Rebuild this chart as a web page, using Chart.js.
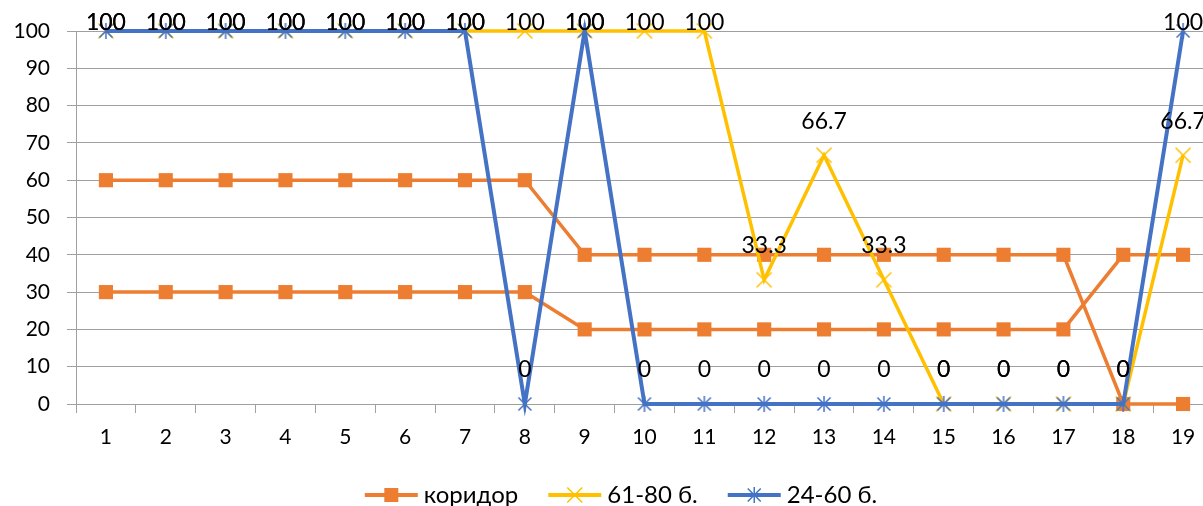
<!DOCTYPE html>
<html>
<head>
<meta charset="utf-8">
<script src="https://cdn.jsdelivr.net/npm/chart.js@4/dist/chart.umd.min.js"></script>
<style>
  html, body { margin: 0; padding: 0; overflow: hidden; background: #ffffff; }
  #wrap { width: 1213px; height: 506px; }
  #chart { display: block; }
</style>
</head>
<body>
<div id="wrap"><canvas id="chart" width="1213" height="506"></canvas></div>
<script>
// Categories along the x axis
const categories = ['1','2','3','4','5','6','7','8','9','10','11','12','13','14','15','16','17','18','19'];

// Corridor bounds (upper and lower), drawn as one legend entry
const corridorUpper = [60,60,60,60,60,60,60,60,40,40,40,40,40,40,40,40,40,0,0];
const corridorLower = [30,30,30,30,30,30,30,30,20,20,20,20,20,20,20,20,20,40,40];

// Score groups
const score61to80 = [100,100,100,100,100,100,100,100,100,100,100,33.3,66.7,33.3,0,0,0,0,66.7];
const score24to60 = [100,100,100,100,100,100,100,0,100,0,0,0,0,0,0,0,0,0,100];

// Series names and y-axis range
const seriesNames = ['коридор', '61-80 б.', '24-60 б.'];
const yMin = 0, yMax = 100, yStep = 10;

const ORANGE = '#ED7D31', YELLOW = '#FFC000', BLUE = '#4472C4';
const FONT = 'Lato, "Open Sans", sans-serif';
const GRID = '#a0a0a0';

// Marker shapes
function drawMarker(ctx, kind, x, y, color) {
  ctx.save();
  ctx.strokeStyle = color;
  ctx.fillStyle = color;
  ctx.lineWidth = 1.5;
  if (kind === 'square') {
    ctx.fillRect(x - 7, y - 7, 14, 14);
  } else if (kind === 'x') {
    ctx.beginPath();
    ctx.moveTo(x - 7.5, y - 7.5); ctx.lineTo(x + 7.5, y + 7.5);
    ctx.moveTo(x + 7.5, y - 7.5); ctx.lineTo(x - 7.5, y + 7.5);
    ctx.stroke();
  } else if (kind === 'asterisk') {
    ctx.beginPath();
    ctx.moveTo(x - 6.5, y - 6.5); ctx.lineTo(x + 6.5, y + 6.5);
    ctx.moveTo(x + 6.5, y - 6.5); ctx.lineTo(x - 6.5, y + 6.5);
    ctx.moveTo(x, y - 8); ctx.lineTo(x, y + 8);
    ctx.stroke();
  }
  ctx.restore();
}

function markerCanvas(kind, color) {
  const c = document.createElement('canvas');
  c.width = 20; c.height = 20;
  drawMarker(c.getContext('2d'), kind, 10, 10, color);
  return c;
}

const asteriskImg = markerCanvas('asterisk', BLUE);
const crossImg = markerCanvas('x', YELLOW);

// Value labels above points of the selected series
const valueLabels = {
  id: 'valueLabels',
  afterDatasetsDraw(chart, args, opts) {
    const ctx = chart.ctx;
    ctx.save();
    ctx.font = '23px ' + FONT;
    ctx.fillStyle = '#000';
    ctx.textAlign = 'center';
    ctx.textBaseline = 'middle';
    opts.datasets.forEach(di => {
      const meta = chart.getDatasetMeta(di);
      const data = chart.data.datasets[di].data;
      meta.data.forEach((pt, i) => {
        const y = Math.max(pt.y - 34, 23);
        ctx.fillText(String(data[i]), pt.x, y);
      });
    });
    ctx.restore();
  }
};

// Legend: line sample with marker, followed by series name
const lineLegend = {
  id: 'lineLegend',
  afterDraw(chart, args, opts) {
    const ctx = chart.ctx;
    ctx.save();
    ctx.font = '24px ' + FONT;
    ctx.textBaseline = 'middle';
    ctx.textAlign = 'left';
    const items = opts.items;
    const sample = 53, gapText = 6, gapItem = 30;
    let total = 0;
    items.forEach((it, i) => {
      total += sample + gapText + ctx.measureText(it.text).width + (i < items.length - 1 ? gapItem : 0);
    });
    let x = opts.centerX - total / 2;
    const y = opts.y;
    items.forEach(it => {
      ctx.strokeStyle = it.color;
      ctx.lineWidth = 4;
      ctx.beginPath();
      ctx.moveTo(x, y); ctx.lineTo(x + sample, y);
      ctx.stroke();
      drawMarker(ctx, it.marker, x + sample / 2, y, it.color);
      ctx.fillStyle = '#000';
      ctx.fillText(it.text, x + sample + gapText, y);
      x += sample + gapText + ctx.measureText(it.text).width + gapItem;
    });
    ctx.restore();
  }
};

new Chart(document.getElementById('chart'), {
  type: 'line',
  data: {
    labels: categories,
    datasets: [
      {
        label: seriesNames[0], data: corridorUpper, order: 4,
        borderColor: ORANGE, backgroundColor: ORANGE, borderWidth: 3.5,
        pointStyle: 'rect', pointRadius: 10, pointBorderWidth: 0,
        pointBackgroundColor: ORANGE, tension: 0, clip: false
      },
      {
        label: seriesNames[0], data: corridorLower, order: 3,
        borderColor: ORANGE, backgroundColor: ORANGE, borderWidth: 3.5,
        pointStyle: 'rect', pointRadius: 10, pointBorderWidth: 0,
        pointBackgroundColor: ORANGE, tension: 0, clip: false
      },
      {
        label: seriesNames[1], data: score61to80, order: 2,
        borderColor: YELLOW, backgroundColor: YELLOW, borderWidth: 3.5,
        pointStyle: crossImg, tension: 0, clip: false
      },
      {
        label: seriesNames[2], data: score24to60, order: 1,
        borderColor: BLUE, backgroundColor: BLUE, borderWidth: 4,
        pointStyle: asteriskImg, tension: 0, clip: false
      }
    ]
  },
  options: {
    responsive: false,
    animation: false,
    devicePixelRatio: 1,
    layout: { autoPadding: false, padding: { top: 31, left: 0, right: 0, bottom: 0 } },
    scales: {
      x: {
        type: 'category',
        offset: true,
        grid: { offset: true, drawOnChartArea: false, drawTicks: true, tickLength: 9, color: GRID, lineWidth: 1 },
        border: { display: true, color: GRID, width: 1 },
        ticks: { color: '#000', font: { family: FONT, size: 21 }, padding: 12, maxRotation: 0, autoSkip: false },
        afterFit(scale) {
          scale.height = 102;
          // labels sit inside their category bands, no extra side room needed
          scale.paddingLeft = 0;
          scale.paddingRight = 0;
        }
      },
      y: {
        min: yMin, max: yMax,
        grid: { color: GRID, lineWidth: 1, tickLength: 9, drawTicks: true },
        border: { display: true, color: GRID, width: 1 },
        ticks: { stepSize: yStep, color: '#000', font: { family: FONT, size: 21 }, padding: 17 },
        afterFit(scale) { scale.width = 76; }
      }
    },
    plugins: {
      legend: { display: false },
      tooltip: { enabled: false },
      valueLabels: { datasets: [2, 3] },
      lineLegend: {
        centerX: 621, y: 495,
        items: [
          { text: seriesNames[0], color: ORANGE, marker: 'square' },
          { text: seriesNames[1], color: YELLOW, marker: 'x' },
          { text: seriesNames[2], color: BLUE, marker: 'asterisk' }
        ]
      }
    }
  },
  plugins: [valueLabels, lineLegend]
});
</script>
</body>
</html>
